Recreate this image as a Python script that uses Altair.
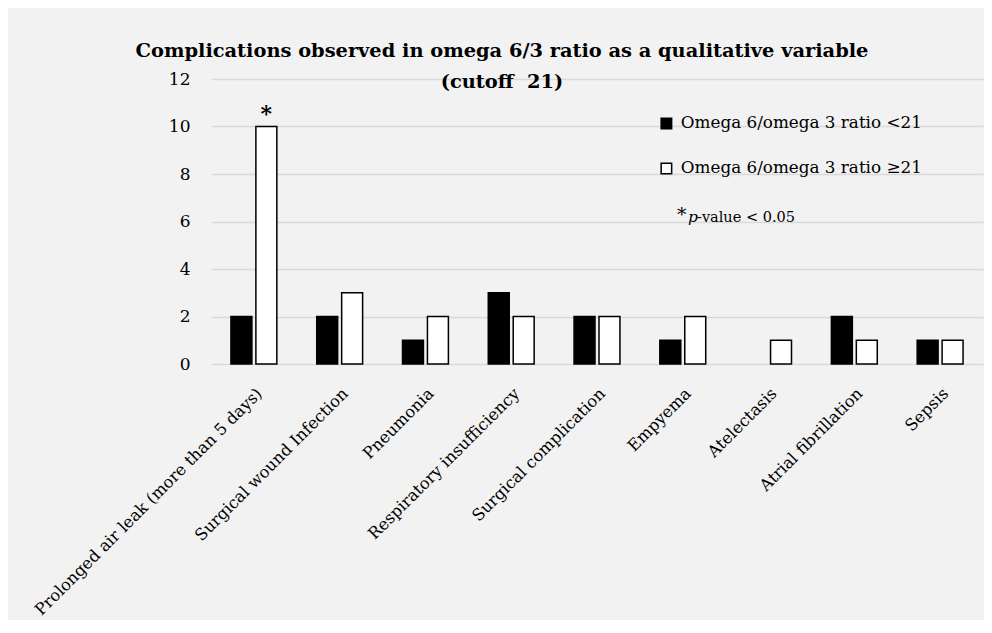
import altair as alt
import pandas as pd

categories = [
    "Prolonged air leak (more than 5 days)",
    "Surgical wound Infection",
    "Pneumonia",
    "Respiratory insufficiency",
    "Surgical complication",
    "Empyema",
    "Atelectasis",
    "Atrial fibrillation",
    "Sepsis",
]
series = ["Omega 6/omega 3 ratio <21", "Omega 6/omega 3 ratio \u226521"]
low_values = [2, 2, 1, 3, 2, 1, 0, 2, 1]
high_values = [10, 3, 2, 2, 2, 2, 1, 1, 1]
y_ticks = [0, 2, 4, 6, 8, 10, 12]
title_lines = ["Complications observed in omega 6/3 ratio as a qualitative variable", "(cutoff\u00a0 21)"]
significant = ["Prolonged air leak (more than 5 days)"]

FONT = "DejaVu Serif"
BG = "#f2f2f2"

rows = []
for c, lo, hi in zip(categories, low_values, high_values):
    rows.append({"cat": c, "series": series[0], "value": lo})
    rows.append({"cat": c, "series": series[1], "value": hi})
df = pd.DataFrame(rows)

star_df = df[(df["cat"].isin(significant)) & (df["series"] == series[1])].copy()
star_df["label"] = "*"

W, H = 772, 285

xenc = alt.X(
    "cat:N",
    sort=categories,
    scale=alt.Scale(paddingInner=0.465, paddingOuter=0.2325),
    axis=alt.Axis(
        title=None,
        labelAngle=-45,
        labelAlign="right",
        labelBaseline="top",
        labelPadding=21,
        labelFont=FONT,
        labelFontSize=16.3,
        labelColor="#000000",
        labelLimit=600,
        domain=False,
        ticks=False,
        grid=False,
    ),
)
xoff = alt.XOffset(
    "series:N",
    sort=series,
    scale=alt.Scale(domain=series, paddingInner=0.16, paddingOuter=0),
)
yenc = alt.Y(
    "value:Q",
    scale=alt.Scale(domain=[0, 12], nice=False),
    axis=alt.Axis(
        title=None,
        values=y_ticks,
        labelFont=FONT,
        labelFontSize=17,
        labelColor="#000000",
        labelPadding=21,
        domain=False,
        ticks=False,
        grid=True,
        gridColor="#d9d9d9",
        gridWidth=1.5,
    ),
)

bars = (
    alt.Chart(df)
    .transform_filter("datum.value > 0")
    .mark_bar(stroke="#000000", strokeWidth=1.5)
    .encode(
        x=xenc,
        xOffset=xoff,
        y=yenc,
        fill=alt.Fill(
            "series:N",
            sort=series,
            scale=alt.Scale(domain=series, range=["#000000", "#ffffff"]),
            legend=alt.Legend(
                title=None,
                orient="none",
                legendX=447,
                legendY=36,
                symbolType="square",
                symbolSize=110,
                symbolStrokeColor="#000000",
                symbolStrokeWidth=1.5,
                labelFont=FONT,
                labelFontSize=16.8,
                labelColor="#000000",
                labelOffset=6,
                rowPadding=27,
                labelLimit=400,
            ),
        ),
    )
)

stars = (
    alt.Chart(star_df)
    .mark_text(font=FONT, fontSize=22, fontWeight="bold", dy=-13, color="#000000")
    .encode(x=xenc, xOffset=xoff, y=yenc, text="label:N")
)

title_df = pd.DataFrame({"t": title_lines, "yy": [-22, 9]})
title = (
    alt.Chart(title_df)
    .mark_text(font=FONT, fontSize=19.4, fontWeight="bold", align="center", baseline="alphabetic", color="#000000")
    .encode(x=alt.value(291), y=alt.Y("yy:Q", scale=None), text="t:N")
)

note_star = (
    alt.Chart(pd.DataFrame({"t": ["*"]}))
    .mark_text(font=FONT, fontSize=19, align="left", baseline="alphabetic", color="#000000")
    .encode(x=alt.value(466), y=alt.value(142), text="t:N")
)
note_p = (
    alt.Chart(pd.DataFrame({"t": ["p"]}))
    .mark_text(font=FONT, fontSize=15.5, fontStyle="italic", align="left", baseline="alphabetic", color="#000000")
    .encode(x=alt.value(477), y=alt.value(143), text="t:N")
)
note_rest = (
    alt.Chart(pd.DataFrame({"t": ["-value < 0.05"]}))
    .mark_text(font=FONT, fontSize=14.5, align="left", baseline="alphabetic", color="#000000")
    .encode(x=alt.value(486), y=alt.value(143), text="t:N")
)

chart = (
    alt.layer(bars, stars, title, note_star, note_p, note_rest)
    .properties(
        width=W,
        height=H,
        autosize=alt.AutoSizeParams(type="none"),
        padding={"left": 203, "top": 71, "right": 1, "bottom": 256},
        background=BG,
    )
    .configure_view(stroke=None)
)

chart.save("out.html", embed_options={"renderer": "svg", "actions": False})
